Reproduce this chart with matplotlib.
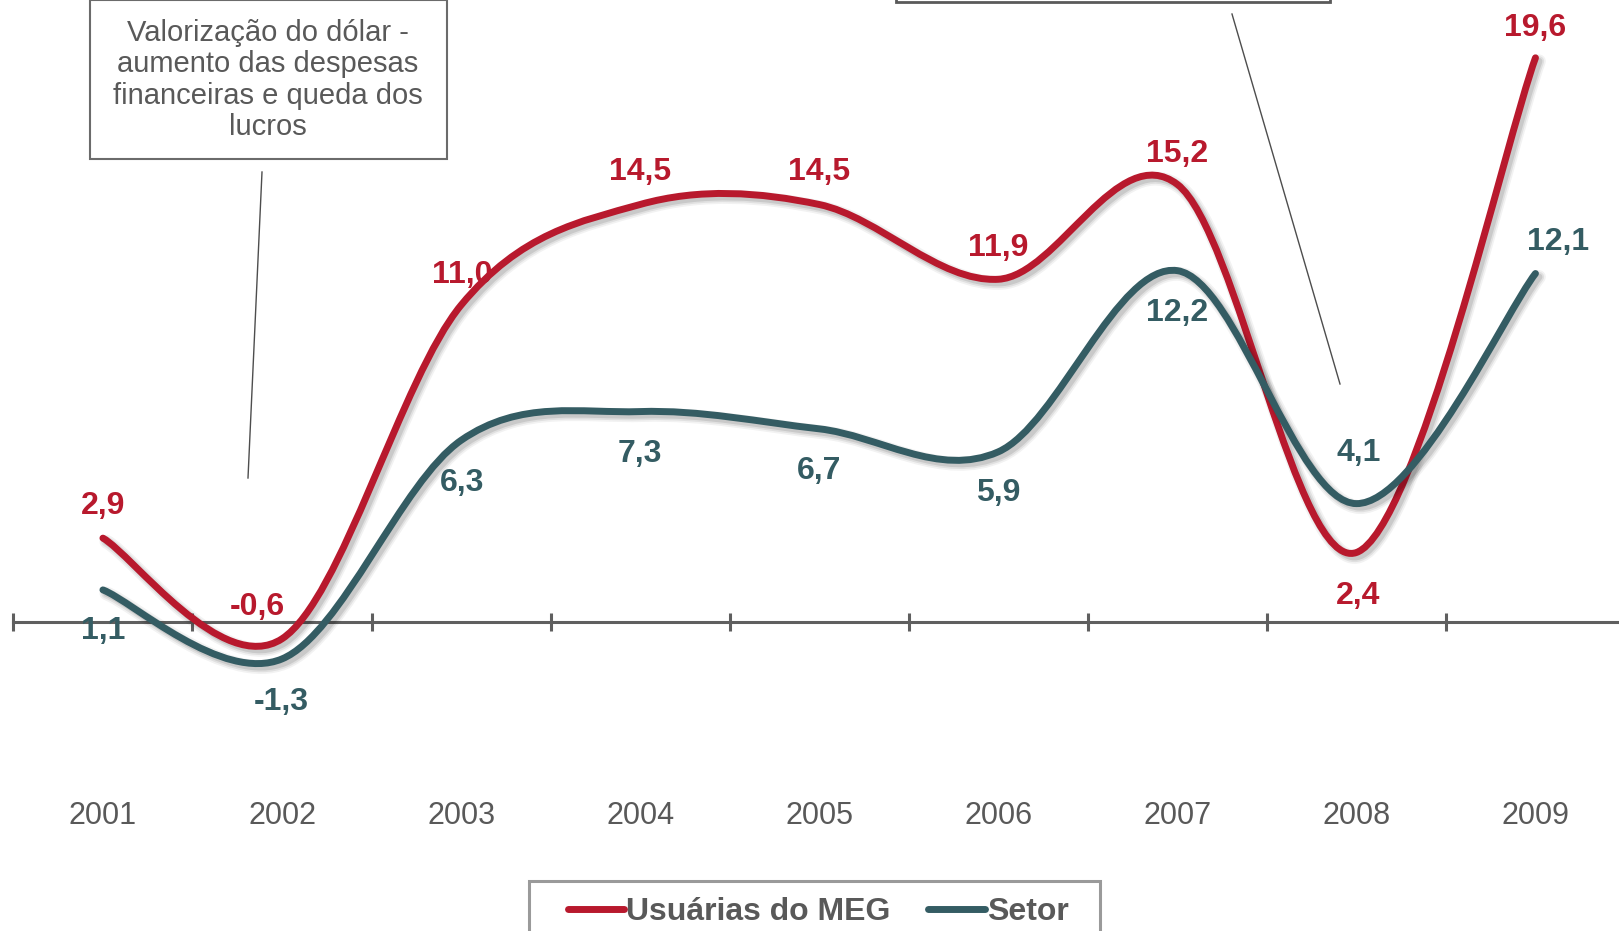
import matplotlib
matplotlib.use("Agg")
import matplotlib.pyplot as plt
import numpy as np
from matplotlib.path import Path
from matplotlib.patches import PathPatch, Rectangle
from matplotlib.lines import Line2D
import matplotlib.patheffects as pe

# ---------------- data ----------------
years = ["2001", "2002", "2003", "2004", "2005", "2006", "2007", "2008", "2009"]
meg = [2.9, -0.6, 11.0, 14.5, 14.5, 11.9, 15.2, 2.4, 19.6]
setor = [1.1, -1.3, 6.3, 7.3, 6.7, 5.9, 12.2, 4.1, 12.1]
series_names = ["Usuárias do MEG", "Setor"]
note_text = "Valorização do dólar -\naumento das despesas\nfinanceiras e queda dos\nlucros"

# ---------------- style ----------------
RED = "#B8192D"
TEAL = "#345C63"
GRAY_TXT = "#595959"
AXIS_GRAY = "#5F5F5F"
plt.rcParams["font.family"] = ["Liberation Sans", "DejaVu Sans"]

W, H = 1619, 931
fig = plt.figure(figsize=(W / 100, H / 100), dpi=100, facecolor="white")
x0_px, x1_px = 13.4, 1625.0
ax = fig.add_axes([x0_px / W, 0, (x1_px - x0_px) / W, 1])
ax.set_xlim(-0.5, 8.5)
ax.set_ylim(-10.76, 21.61)
ax.patch.set_visible(False)


def smooth_path(xs, ys):
    pts = np.column_stack([xs, ys]).astype(float)
    n = len(pts)
    verts = [pts[0]]
    codes = [Path.MOVETO]
    for i in range(n - 1):
        p0 = pts[max(i - 1, 0)]
        p1 = pts[i]
        p2 = pts[i + 1]
        p3 = pts[min(i + 2, n - 1)]
        c1 = p1 + (p2 - p0) / 6.0
        c2 = p2 - (p3 - p1) / 6.0
        verts += [c1, c2, p2]
        codes += [Path.CURVE4] * 3
    return Path(verts, codes)


LW = 5.0


def shadow_effects(lw):
    off = (2.5, -2.5)
    return [
        pe.SimpleLineShadow(offset=off, shadow_color="black", alpha=0.05, linewidth=lw + 5),
        pe.SimpleLineShadow(offset=off, shadow_color="black", alpha=0.07, linewidth=lw + 2.5),
        pe.SimpleLineShadow(offset=off, shadow_color="black", alpha=0.10, linewidth=lw),
        pe.Normal(),
    ]


xs = np.arange(len(years))
for vals, col, z in [(meg, RED, 4), (setor, TEAL, 5)]:
    patch = PathPatch(smooth_path(xs, vals), facecolor="none", edgecolor=col, lw=LW,
                      capstyle="round", joinstyle="round", zorder=z,
                      path_effects=shadow_effects(LW))
    ax.add_patch(patch)

# ---------------- axis ----------------
for s in ["left", "top", "right"]:
    ax.spines[s].set_visible(False)
ax.spines["bottom"].set_position(("data", 0))
ax.spines["bottom"].set_color(AXIS_GRAY)
ax.spines["bottom"].set_linewidth(2.2)
ax.spines["bottom"].set_zorder(2)
ax.set_yticks([])
ax.set_xticks(xs)
ax.set_xticklabels(years)
ax.set_xticks(np.arange(-0.5, len(years), 1.0), minor=True)
ax.tick_params(axis="x", which="major", length=0, pad=129, labelsize=22, labelcolor=GRAY_TXT)
ax.tick_params(axis="x", which="minor", direction="inout", length=13.5, width=2.2, color=AXIS_GRAY)

# ---------------- data labels ----------------
meg_off = [(0, 32), (-25, 32), (1, 30), (0, 32), (0, 32), (0, 31), (0, 30), (2, -43), (0, 30)]
setor_off = [(0, -41), (-1, -43), (1, -43), (0, -42), (0, -42), (0, -41), (0, -42), (2, 51), (23, 32)]


def fmt(v):
    return f"{v:.1f}".replace(".", ",")


for vals, offs, col in [(meg, meg_off, RED), (setor, setor_off, TEAL)]:
    for i, (v, (dx, dy)) in enumerate(zip(vals, offs)):
        ax.annotate(fmt(v), xy=(i, v), xytext=(dx, dy), textcoords="offset pixels",
                    ha="center", va="center", fontsize=23, fontweight="bold",
                    color=col, zorder=3)

# ---------------- annotations ----------------
tf = fig.transFigure


def fx(px):
    return px / W


def fy(py):
    return 1 - py / H


fig.add_artist(Rectangle((fx(90), fy(159)), fx(447) - fx(90), fy(0) - fy(159),
                         transform=tf, facecolor="white", edgecolor="#6B6B6B", lw=1.5))
fig.text(fx(268), fy(80), note_text, ha="center", va="center", fontsize=21,
         color=GRAY_TXT, linespacing=1.16)
fig.add_artist(Line2D([fx(262), fx(248)], [fy(172), fy(478)], transform=tf,
                      color="#4D4D4D", lw=1.0))

fig.add_artist(Rectangle((fx(896), fy(1.5)), fx(1330) - fx(896), 60 / H,
                         transform=tf, facecolor="white", edgecolor="#5A5A5A", lw=2.0))
fig.add_artist(Line2D([fx(1232), fx(1340)], [fy(14), fy(384)], transform=tf,
                      color="#4D4D4D", lw=1.0))

# ---------------- legend ----------------
fig.add_artist(Rectangle((fx(529), fy(965)), fx(1100) - fx(529), fy(881) - fy(965),
                         transform=tf, facecolor="white", edgecolor="#9A9A9A", lw=2.2))
handles = [Line2D([], [], color=RED, lw=LW, solid_capstyle="round"),
           Line2D([], [], color=TEAL, lw=LW, solid_capstyle="round")]
leg = fig.legend(handles, series_names, loc="center", bbox_to_anchor=(fx(818), fy(912)),
                 ncol=2, frameon=False, prop={"size": 23, "weight": "bold"},
                 labelcolor=GRAY_TXT, handlelength=1.78, handletextpad=0.06,
                 columnspacing=1.16, borderpad=0)

fig.savefig("out.png", dpi=100, facecolor="white")
